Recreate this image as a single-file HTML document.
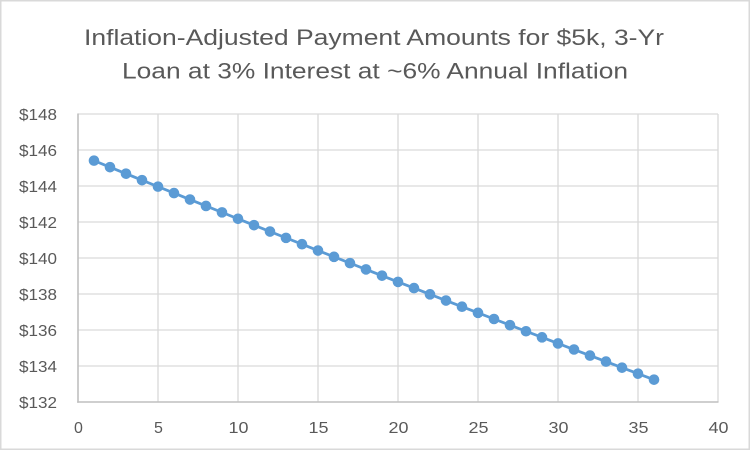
<!DOCTYPE html>
<html>
<head>
<meta charset="utf-8">
<style>
html,body{margin:0;padding:0;background:#fff;}
svg{display:block;}
text{font-family:"Liberation Sans",sans-serif;fill:#595959;}
</style>
</head>
<body>
<svg width="752" height="452" viewBox="0 0 752 452" xmlns="http://www.w3.org/2000/svg">
<rect x="0" y="0" width="752" height="452" fill="#fff"/>
<rect x="0.75" y="0.75" width="748.5" height="448.5" fill="none" stroke="#d9d9d9" stroke-width="1.5"/>

<text x="84" y="45" font-size="22" textLength="580" lengthAdjust="spacingAndGlyphs">Inflation-Adjusted Payment Amounts for $5k, 3-Yr</text>
<text x="122" y="78.7" font-size="22" textLength="506" lengthAdjust="spacingAndGlyphs">Loan at 3% Interest at ~6% Annual Inflation</text>

<g stroke="#d9d9d9" stroke-width="1.3" fill="none">
<line x1="78" y1="114" x2="718" y2="114"/>
<line x1="78" y1="150" x2="718" y2="150"/>
<line x1="78" y1="186" x2="718" y2="186"/>
<line x1="78" y1="222" x2="718" y2="222"/>
<line x1="78" y1="258" x2="718" y2="258"/>
<line x1="78" y1="294" x2="718" y2="294"/>
<line x1="78" y1="330" x2="718" y2="330"/>
<line x1="78" y1="366" x2="718" y2="366"/>
<line x1="158" y1="114" x2="158" y2="402"/>
<line x1="238" y1="114" x2="238" y2="402"/>
<line x1="318" y1="114" x2="318" y2="402"/>
<line x1="398" y1="114" x2="398" y2="402"/>
<line x1="478" y1="114" x2="478" y2="402"/>
<line x1="558" y1="114" x2="558" y2="402"/>
<line x1="638" y1="114" x2="638" y2="402"/>
<line x1="718" y1="114" x2="718" y2="402"/>
</g>
<g stroke="#bfbfbf" stroke-width="1.6" fill="none">
<line x1="78" y1="113.5" x2="78" y2="402.8"/>
<line x1="77.2" y1="402" x2="718.5" y2="402"/>
</g>

<g font-size="16">
<text x="19" y="120" textLength="38" lengthAdjust="spacingAndGlyphs">$148</text>
<text x="19" y="156" textLength="38" lengthAdjust="spacingAndGlyphs">$146</text>
<text x="19" y="192" textLength="38" lengthAdjust="spacingAndGlyphs">$144</text>
<text x="19" y="228" textLength="38" lengthAdjust="spacingAndGlyphs">$142</text>
<text x="19" y="264" textLength="38" lengthAdjust="spacingAndGlyphs">$140</text>
<text x="19" y="300" textLength="38" lengthAdjust="spacingAndGlyphs">$138</text>
<text x="19" y="336" textLength="38" lengthAdjust="spacingAndGlyphs">$136</text>
<text x="19" y="372" textLength="38" lengthAdjust="spacingAndGlyphs">$134</text>
<text x="19" y="408" textLength="38" lengthAdjust="spacingAndGlyphs">$132</text>
</g>
<g font-size="16" text-anchor="middle">
<text x="78.5" y="433">0</text>
<text x="158.5" y="433">5</text>
<text x="238.5" y="433" textLength="20" lengthAdjust="spacingAndGlyphs">10</text>
<text x="318.5" y="433" textLength="20" lengthAdjust="spacingAndGlyphs">15</text>
<text x="398.5" y="433" textLength="20" lengthAdjust="spacingAndGlyphs">20</text>
<text x="478.5" y="433" textLength="20" lengthAdjust="spacingAndGlyphs">25</text>
<text x="558.5" y="433" textLength="20" lengthAdjust="spacingAndGlyphs">30</text>
<text x="638.5" y="433" textLength="20" lengthAdjust="spacingAndGlyphs">35</text>
<text x="718.5" y="433" textLength="20" lengthAdjust="spacingAndGlyphs">40</text>
</g>

<polyline fill="none" stroke="#5b9bd5" stroke-width="2.8" stroke-linejoin="round" stroke-linecap="round"
points="94,160.62 110,167.15 126,173.66 142,180.15 158,186.63 174,193.09 190,199.54 206,205.97 222,212.38 238,218.78 254,225.16 270,231.53 286,237.88 302,244.21 318,250.53 334,256.83 350,263.12 366,269.39 382,275.65 398,281.89 414,288.11 430,294.32 446,300.52 462,306.69 478,312.86 494,319.00 510,325.14 526,331.25 542,337.35 558,343.44 574,349.51 590,355.57 606,361.61 622,367.64 638,373.65 654,379.64"/>
<g fill="#5b9bd5">
<circle cx="94" cy="160.62" r="5.3"/>
<circle cx="110" cy="167.15" r="5.3"/>
<circle cx="126" cy="173.66" r="5.3"/>
<circle cx="142" cy="180.15" r="5.3"/>
<circle cx="158" cy="186.63" r="5.3"/>
<circle cx="174" cy="193.09" r="5.3"/>
<circle cx="190" cy="199.54" r="5.3"/>
<circle cx="206" cy="205.97" r="5.3"/>
<circle cx="222" cy="212.38" r="5.3"/>
<circle cx="238" cy="218.78" r="5.3"/>
<circle cx="254" cy="225.16" r="5.3"/>
<circle cx="270" cy="231.53" r="5.3"/>
<circle cx="286" cy="237.88" r="5.3"/>
<circle cx="302" cy="244.21" r="5.3"/>
<circle cx="318" cy="250.53" r="5.3"/>
<circle cx="334" cy="256.83" r="5.3"/>
<circle cx="350" cy="263.12" r="5.3"/>
<circle cx="366" cy="269.39" r="5.3"/>
<circle cx="382" cy="275.65" r="5.3"/>
<circle cx="398" cy="281.89" r="5.3"/>
<circle cx="414" cy="288.11" r="5.3"/>
<circle cx="430" cy="294.32" r="5.3"/>
<circle cx="446" cy="300.52" r="5.3"/>
<circle cx="462" cy="306.69" r="5.3"/>
<circle cx="478" cy="312.86" r="5.3"/>
<circle cx="494" cy="319.00" r="5.3"/>
<circle cx="510" cy="325.14" r="5.3"/>
<circle cx="526" cy="331.25" r="5.3"/>
<circle cx="542" cy="337.35" r="5.3"/>
<circle cx="558" cy="343.44" r="5.3"/>
<circle cx="574" cy="349.51" r="5.3"/>
<circle cx="590" cy="355.57" r="5.3"/>
<circle cx="606" cy="361.61" r="5.3"/>
<circle cx="622" cy="367.64" r="5.3"/>
<circle cx="638" cy="373.65" r="5.3"/>
<circle cx="654" cy="379.64" r="5.3"/>
</g>
</svg>
</body>
</html>
